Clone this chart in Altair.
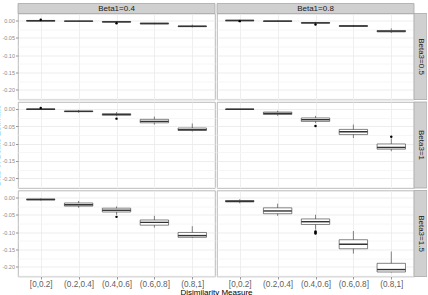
import altair as alt
import pandas as pd

categories = ["[0,0.2]", "(0.2,0.4]", "(0.4,0.6]", "(0.6,0.8]", "(0.8,1]"]
beta1_labels = ["Beta1=0.4", "Beta1=0.8"]
beta3_labels = ["Beta3=0.5", "Beta3=1", "Beta3=1.5"]
x_title = "Disimilarity Measure"
y_title = "Bias of Beta3 Estimate"

# panels in row-major order: (Beta3=0.5,Beta1=0.4), (Beta3=0.5,Beta1=0.8), (Beta3=1,...), ...
whisker_low = [
    [-0.003, -0.004, -0.006, -0.011, -0.020],
    [-0.002, -0.004, -0.010, -0.019, -0.036],
    [-0.002, -0.011, -0.021, -0.045, -0.065],
    [-0.002, -0.020, -0.041, -0.084, -0.122],
    [-0.009, -0.030, -0.050, -0.087, -0.117],
    [-0.017, -0.053, -0.093, -0.162, -0.216],
]
q1 = [
    [-0.002, -0.003, -0.005, -0.010, -0.018],
    [-0.001, -0.003, -0.008, -0.017, -0.033],
    [-0.0015, -0.008, -0.018, -0.040, -0.062],
    [-0.0015, -0.016, -0.036, -0.074, -0.116],
    [-0.007, -0.025, -0.042, -0.080, -0.115],
    [-0.013, -0.047, -0.078, -0.148, -0.215],
]
median = [
    [-0.001, -0.002, -0.004, -0.009, -0.017],
    [0.000, -0.002, -0.007, -0.016, -0.031],
    [-0.001, -0.007, -0.016, -0.036, -0.060],
    [-0.001, -0.013, -0.031, -0.066, -0.111],
    [-0.006, -0.021, -0.037, -0.072, -0.110],
    [-0.011, -0.039, -0.070, -0.135, -0.208],
]
q3 = [
    [0.000, -0.0015, -0.003, -0.008, -0.016],
    [0.0005, -0.0015, -0.006, -0.015, -0.029],
    [0.000, -0.006, -0.014, -0.030, -0.055],
    [-0.0005, -0.009, -0.026, -0.059, -0.101],
    [-0.005, -0.016, -0.031, -0.065, -0.101],
    [-0.009, -0.030, -0.062, -0.122, -0.190],
]
whisker_high = [
    [0.001, -0.001, -0.002, -0.007, -0.012],
    [0.002, 0.000, -0.004, -0.013, -0.023],
    [0.001, -0.003, -0.009, -0.022, -0.042],
    [0.000, -0.005, -0.020, -0.045, -0.085],
    [-0.003, -0.010, -0.026, -0.053, -0.083],
    [-0.005, -0.018, -0.050, -0.097, -0.156],
]
outlier_panel = [0, 0, 1, 1, 2, 2, 3, 3, 4, 5, 5, 5]
outlier_cat = [0, 2, 0, 2, 0, 2, 2, 4, 2, 2, 2, 2]
outlier_value = [0.002, -0.008, -0.002, -0.012, 0.003, -0.028,
                 -0.049, -0.080, -0.056, -0.098, -0.101, -0.104]

FONT = "Liberation Sans"
W, H = 197, 86
STRIP = 10
RSTRIP = 13
BOXW = 28.4
INK = "#333333"
y_domain = [-0.228, 0.02]
y_ticks = [0.0, -0.025, -0.05, -0.075, -0.1, -0.125, -0.15, -0.175, -0.2, -0.225]
major = "abs(round(datum.value*40)) % 2 == 0"


def make_panel(r, c):
    idx = r * 2 + c
    df = pd.DataFrame({
        "cat": categories,
        "low": whisker_low[idx],
        "q1": q1[idx],
        "median": median[idx],
        "q3": q3[idx],
        "high": whisker_high[idx],
    })
    odf = pd.DataFrame({
        "cat": [categories[k] for p, k in zip(outlier_panel, outlier_cat) if p == idx],
        "value": [v for p, v in zip(outlier_panel, outlier_value) if p == idx],
    })
    bottom = r == 2
    left = c == 0

    xkw = dict(labels=bottom, ticks=bottom, domain=False, grid=True,
               gridColor="#ebebeb", gridWidth=0.8, labelAngle=0,
               labelFont=FONT, labelFontSize=8.2, labelColor="#5e5e5e",
               labelPadding=1.2, tickSize=2.5, tickColor="#7f7f7f", tickWidth=0.8)
    if bottom and left:
        xkw.update(title=x_title, titleX=W + 1, titleY=18.3, titleAlign="center",
                   titleBaseline="alphabetic", titleFont=FONT, titleFontSize=8,
                   titleFontWeight="normal", titleColor="#000000")
    else:
        xkw.update(title=None)
    xaxis = alt.Axis(**xkw)
    xscale = alt.Scale(type="point", domain=categories, padding=0.6)

    ykw = dict(values=y_ticks, labels=left, ticks=left, domain=False, grid=True,
               gridColor={"condition": {"test": major, "value": "#e8e8e8"}, "value": "#f4f4f4"},
               gridWidth=0.8,
               tickColor={"condition": {"test": major, "value": "#7f7f7f"}, "value": "transparent"},
               tickSize=2.5, tickWidth=0.8,
               labelExpr=f"{major} ? replace(format(datum.value, '.2f'), '\u2212', '-') : ''",
               labelFont=FONT, labelFontSize=5.5, labelColor="#8a8a8a", labelPadding=1)
    if left and r == 1:
        ykw.update(title=y_title, titleX=-17, titleY=H / 2, titleAngle=270,
                   titleAlign="center", titleBaseline="bottom", titleFont=FONT,
                   titleFontSize=8, titleFontWeight="normal", titleColor="#000000")
    else:
        ykw.update(title=None)
    yaxis = alt.Axis(**ykw)
    yscale = alt.Scale(domain=y_domain, nice=False, zero=False)

    X = alt.X("cat:N", scale=xscale, axis=xaxis, sort=categories)

    whisk = alt.Chart(df).mark_rule(color=INK, strokeWidth=0.6).encode(
        x=X, y=alt.Y("low:Q", scale=yscale, axis=yaxis), y2="high:Q")
    box = alt.Chart(df).mark_bar(width=BOXW, fill="white", stroke=INK, strokeWidth=0.6).encode(
        x=X, y=alt.Y("q1:Q", scale=yscale, axis=yaxis), y2="q3:Q")
    med = alt.Chart(df).mark_tick(size=BOXW, thickness=1.4, color=INK, opacity=1).encode(
        x=X, y=alt.Y("median:Q", scale=yscale, axis=yaxis))
    layers = [whisk, box, med]
    if len(odf):
        pts = alt.Chart(odf).mark_circle(size=6, color="#000000", opacity=1).encode(
            x=X, y=alt.Y("value:Q", scale=yscale, axis=yaxis))
        layers.append(pts)

    if r == 0:
        sdf = pd.DataFrame({"label": [beta1_labels[c]]})
        layers.append(alt.Chart(sdf).mark_rect(fill="#d0d0d0", stroke="#a8a8a8", strokeWidth=0.8).encode(
            x=alt.value(0), x2=alt.value(W), y=alt.value(-STRIP), y2=alt.value(0)))
        layers.append(alt.Chart(sdf).mark_text(font=FONT, fontSize=8, color="#1a1a1a",
                                               align="center", baseline="middle").encode(
            x=alt.value(W / 2), y=alt.value(-STRIP / 2 + 0.3), text="label:N"))
    if c == 1:
        rdf = pd.DataFrame({"label": [beta3_labels[r]]})
        layers.append(alt.Chart(rdf).mark_rect(fill="#d0d0d0", stroke="#a8a8a8", strokeWidth=0.8).encode(
            x=alt.value(W), x2=alt.value(W + RSTRIP), y=alt.value(0), y2=alt.value(H)))
        layers.append(alt.Chart(rdf).mark_text(font=FONT, fontSize=8, color="#1a1a1a", angle=90,
                                               align="center", baseline="middle").encode(
            x=alt.value(W + RSTRIP / 2), y=alt.value(H / 2), text="label:N"))

    return alt.layer(*layers).properties(width=W, height=H)


panels = [make_panel(r, c) for r in range(3) for c in range(2)]

chart = alt.concat(*panels, columns=2, spacing={"row": 2.5, "column": 2},
                   bounds="flush").properties(
    padding={"left": -8, "top": 2.5, "right": -1, "bottom": -2},
    background="white",
).configure_view(stroke="#a8a8a8", strokeWidth=0.8)

chart.save("out.html", embed_options={"renderer": "svg", "actions": False})
